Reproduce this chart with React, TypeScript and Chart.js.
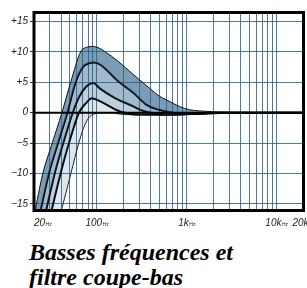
import React, { useEffect, useRef } from "react";
import { Chart, registerables } from "chart.js";

Chart.register(...registerables);

// Frequency response curves (Hz, dB)
const freqA = [20, 25.1, 31.9, 40.9, 51.2, 66, 78, 90, 104, 125, 168, 259, 300, 389, 500, 600, 838, 1070, 1400, 2500, 4000, 20000];
const dbA = [-17, -10, -5, 0, 5, 10, 10.8, 10.9, 10.7, 10, 8.6, 6.2, 5.4, 4.0, 2.7, 2.1, 1.0, 0.5, 0.3, 0.1, 0.03, 0];

const freqB = [20, 23.5, 29.3, 37, 47, 58, 70, 80, 93, 110, 167, 259, 360, 600, 1000, 2500, 20000];
const dbB = [-21, -16.3, -10, -5, 0, 5, 7.5, 8.1, 8.25, 7.9, 5.4, 3.2, 1.3, 0.2, -0.2, 0, 0];

const freqC = [20, 27, 34, 42.3, 54, 63, 75, 92, 108, 160, 259, 300, 400, 600, 1200, 3000, 20000];
const dbC = [-24.2, -16.3, -10, -5, 0, 2.5, 4.2, 4.9, 4.0, 2.4, 1.0, 0.5, 0, -0.3, -0.2, 0, 0];

const freqD = [20, 31.1, 39.5, 49, 63.2, 75, 88, 108, 181, 300, 800, 2000, 20000];
const dbD = [-28, -16.3, -10, -5, 0, 1.5, 2.4, 1.9, 0.2, -0.3, -0.3, 0, 0];

const freqE = [20, 40, 51.5, 63, 73.6, 83, 100, 140, 200, 600, 1500, 3000, 20000];
const dbE = [-33, -16.3, -10, -5, -2, -0.7, -0.1, 0, -0.3, -0.4, -0.2, 0, 0];

// Axis ticks
const xGridFreqs = [20, 30, 40, 50, 60, 70, 80, 90, 100, 200, 300, 400, 500, 600, 700, 800, 900, 1000, 2000, 3000, 4000, 5000, 6000, 7000, 8000, 9000, 10000, 20000];
const xLabelFreqs = [20, 100, 1000, 10000, 20000];
const xLabelNums = ["20", "100", "1k", "10k", "20k"];
const xLabelUnits = ["Hz", "Hz", "Hz", "Hz", "Hz"];
const yTicks = [-15, -10, -5, 0, 5, 10, 15];

const captionLines = ["Basses fréquences et", "filtre coupe-bas"];

const GRID = "rgba(45,100,140,0.85)";

const toXY = (fs: number[], ds: number[]) => fs.map((f, i) => ({ x: f, y: ds[i] }));

export default function App() {
  const ref = useRef<HTMLCanvasElement | null>(null);

  useEffect(() => {
    document.body.style.margin = "0";
    const canvas = ref.current;
    if (!canvas) return;

    const overlay = {
      id: "overlay",
      afterDatasetsDraw(chart: any) {
        const { ctx, chartArea } = chart;
        const xs = chart.scales.x;
        const ys = chart.scales.y;
        ctx.save();
        // zero line
        const y0 = ys.getPixelForValue(0);
        ctx.strokeStyle = "#000";
        ctx.lineWidth = 2;
        ctx.beginPath();
        ctx.moveTo(chartArea.left, y0);
        ctx.lineTo(chartArea.right, y0);
        ctx.stroke();
        // frame
        ctx.lineWidth = 3;
        ctx.strokeRect(chartArea.left, chartArea.top, chartArea.right - chartArea.left, chartArea.bottom - chartArea.top);
        // x labels
        ctx.fillStyle = "#222";
        ctx.textBaseline = "alphabetic";
        const numFont = "italic 10px 'Liberation Sans', Arial, sans-serif";
        const unitFont = "5px 'Liberation Sans', Arial, sans-serif";
        xLabelFreqs.forEach((f, i) => {
          const px = xs.getPixelForValue(f);
          ctx.font = numFont;
          const wn = ctx.measureText(xLabelNums[i]).width;
          ctx.font = unitFont;
          const wu = ctx.measureText(xLabelUnits[i]).width;
          let left = px - (wn + wu) / 2;
          if (left < chartArea.left) left = chartArea.left;
          const base = 226;
          ctx.font = numFont;
          ctx.textAlign = "left";
          ctx.fillText(xLabelNums[i], left, base);
          ctx.font = unitFont;
          ctx.fillText(xLabelUnits[i], left + wn + 0.5, base);
        });
        ctx.restore();
      },
    };

    const bandColors = [
      "rgba(40,95,135,0.62)",
      "rgba(40,95,135,0.44)",
      "rgba(40,95,135,0.30)",
      "rgba(40,95,135,0.15)",
    ];

    const chart = new Chart(canvas, {
      type: "line",
      data: {
        datasets: [
          { data: toXY(freqA, dbA), borderColor: "#111", borderWidth: 1, fill: "+1", backgroundColor: bandColors[0] },
          { data: toXY(freqB, dbB), borderColor: "#000", borderWidth: 2, fill: "+1", backgroundColor: bandColors[1] },
          { data: toXY(freqC, dbC), borderColor: "#000", borderWidth: 2, fill: "+1", backgroundColor: bandColors[2] },
          { data: toXY(freqD, dbD), borderColor: "#000", borderWidth: 2, fill: "+1", backgroundColor: bandColors[3] },
          { data: toXY(freqE, dbE), borderColor: "#222", borderWidth: 1, fill: false },
        ] as any,
      },
      options: {
        responsive: false,
        animation: false,
        devicePixelRatio: 1,
        parsing: true,
        elements: {
          point: { radius: 0 },
          line: { cubicInterpolationMode: "monotone" },
        },
        layout: { padding: { left: 0, top: 12.5, right: 3.5, bottom: 0 } },
        plugins: { legend: { display: false }, tooltip: { enabled: false } },
        scales: {
          x: {
            type: "logarithmic",
            min: 20,
            max: 20000,
            afterBuildTicks: (s: any) => {
              s.ticks = xGridFreqs.map((v) => ({ value: v }));
            },
            afterFit: (s: any) => {
              s.height = 25.5;
            },
            ticks: { display: false },
            grid: { color: GRID, lineWidth: 1, drawTicks: false },
            border: { display: false },
          },
          y: {
            type: "linear",
            min: -16.1,
            max: 16.5,
            afterBuildTicks: (s: any) => {
              s.ticks = yTicks.map((v) => ({ value: v }));
            },
            afterFit: (s: any) => {
              s.width = 34;
            },
            ticks: {
              color: "#222",
              padding: 2,
              font: { family: "'Liberation Sans', Arial, sans-serif", size: 10, style: "italic" },
              callback: (v: any) => (v > 0 ? "+" + v : v < 0 ? "\u2212" + Math.abs(v) : "0"),
            },
            grid: {
              color: GRID,
              lineWidth: 1,
              tickLength: 4,
              tickColor: "#333",
            },
            border: { display: false },
          },
        },
      },
      plugins: [overlay],
    } as any);

    return () => chart.destroy();
  }, []);

  return (
    <div style={{ position: "relative", width: 307, height: 288, background: "#fff", overflow: "hidden" }}>
      <canvas ref={ref} width={307} height={236} style={{ position: "absolute", left: 0, top: 0, width: 307, height: 236 }} />
      <div
        style={{
          position: "absolute",
          left: 29,
          top: 240,
          fontFamily: "'Liberation Serif', 'Times New Roman', serif",
          fontWeight: "bold",
          fontStyle: "italic",
          fontSize: 24,
          lineHeight: "25px",
          color: "#000",
          whiteSpace: "nowrap",
        }}
      >
        {captionLines.map((l, i) => (
          <div key={i}>{l}</div>
        ))}
      </div>
    </div>
  );
}
